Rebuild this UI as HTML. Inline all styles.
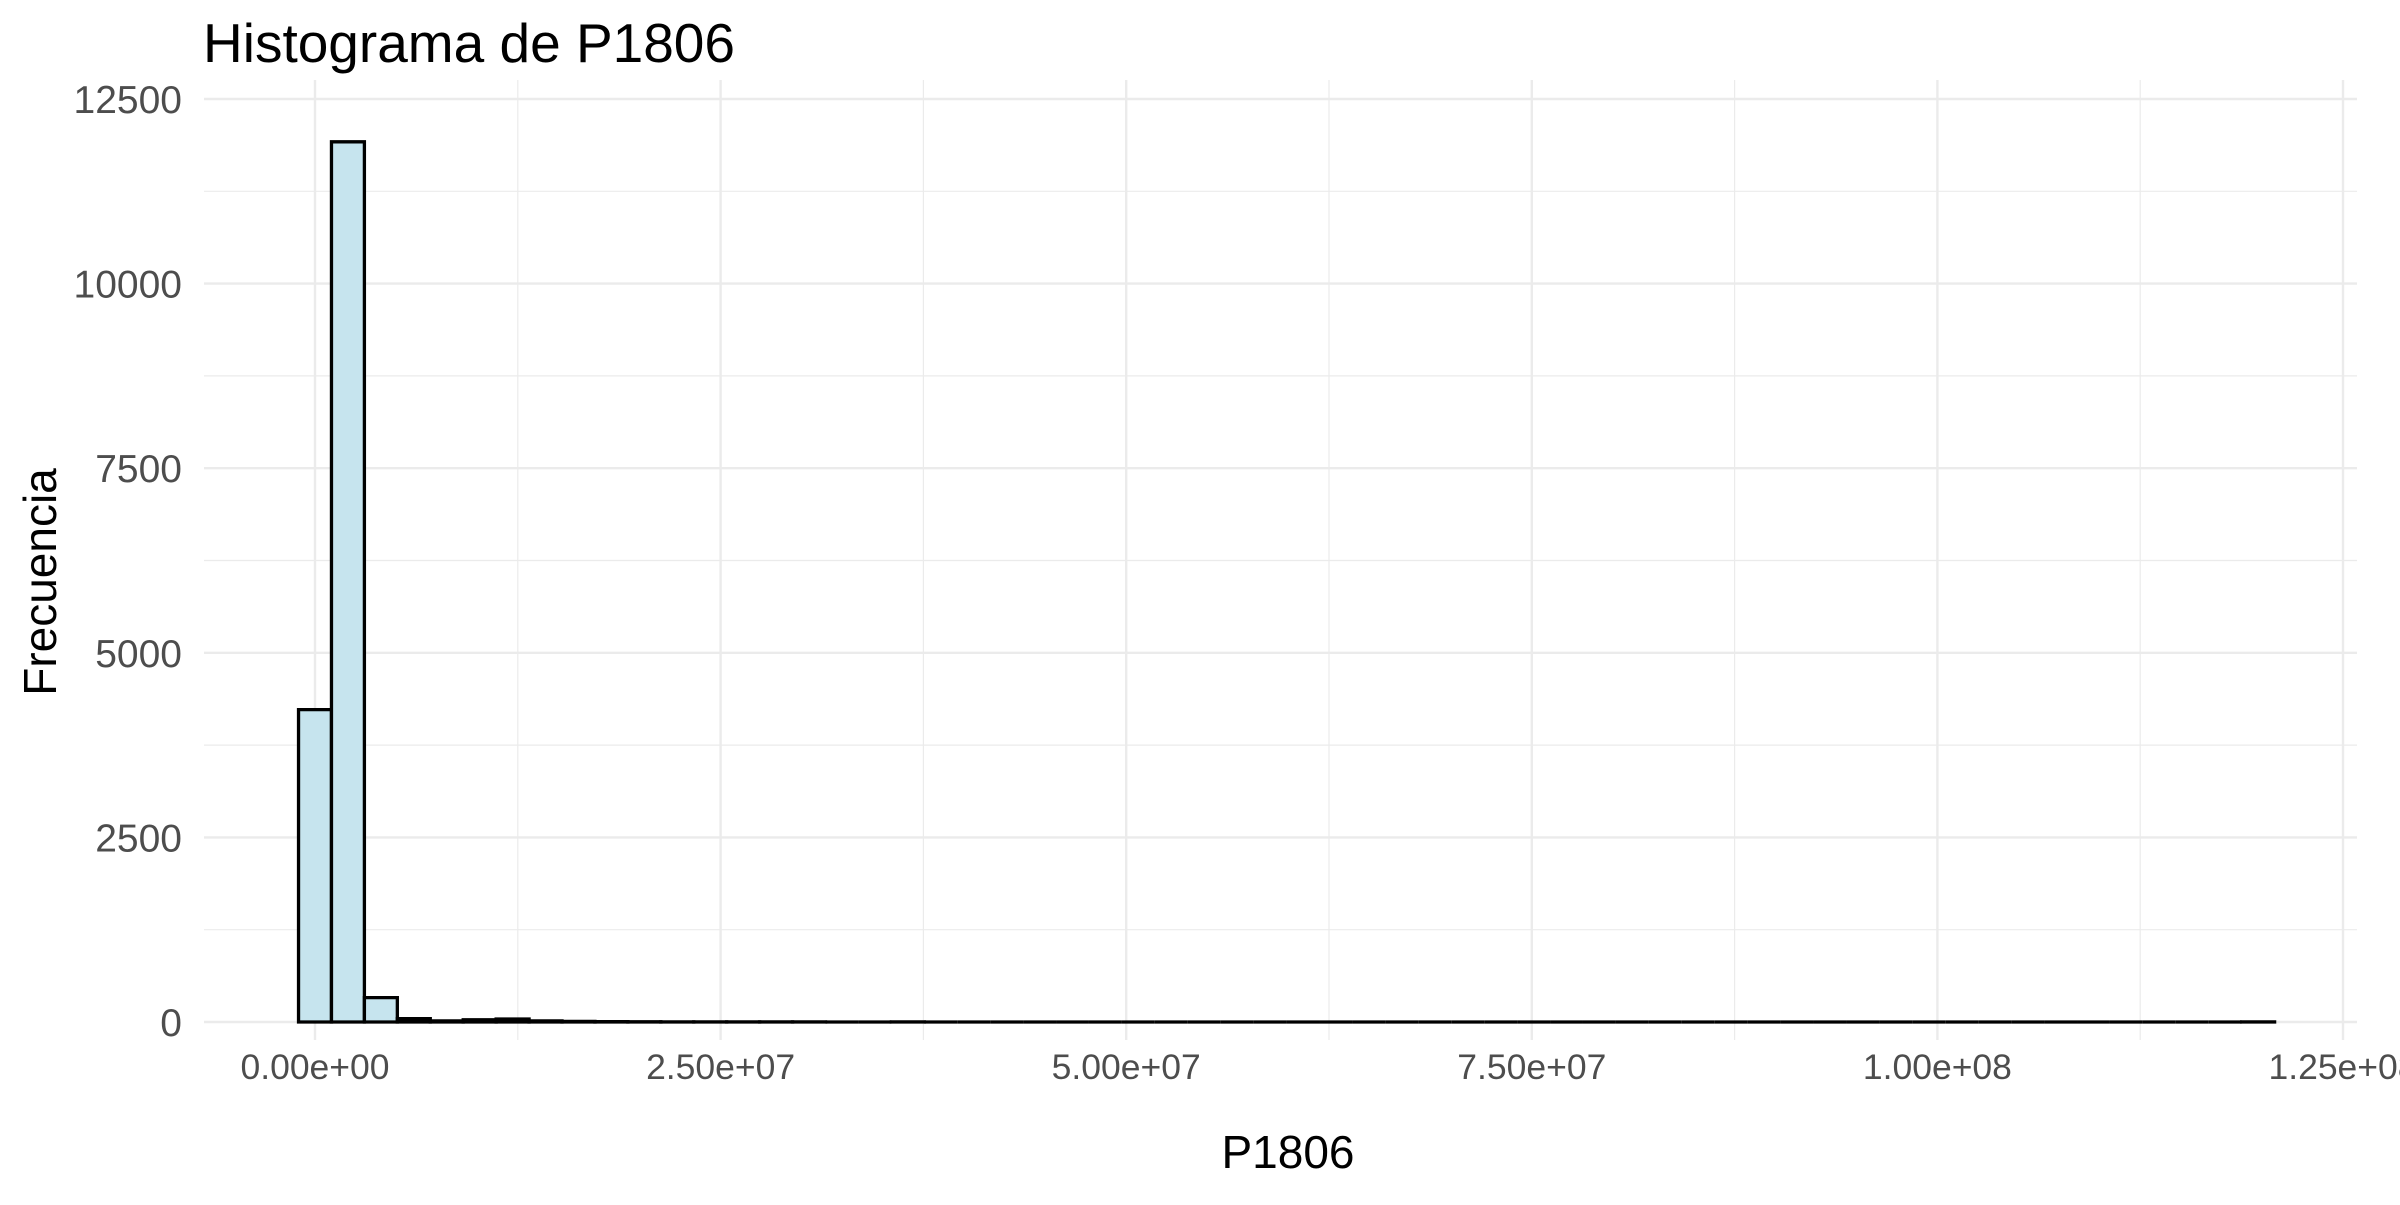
<!DOCTYPE html>
<html><head><meta charset="utf-8"><style>
body{margin:0;background:#fff}
svg text{font-family:"Liberation Sans",sans-serif}
</style></head><body>
<svg id="chart" width="2400" height="1200" xmlns="http://www.w3.org/2000/svg">
<g id="grid"></g><g id="bars"></g><g id="labels"></g>
<text x="203" y="62" font-size="55" fill="#000">Histograma de P1806</text>
<text x="1288" y="1168" font-size="46" text-anchor="middle" fill="#000">P1806</text>
<text transform="translate(56,582) rotate(-90)" font-size="46" text-anchor="middle" fill="#000">Frecuencia</text>
</svg>
<script>
const binWidth = 2030000;
const counts = [4230,11920,330,45,15,30,40,15,8,5,3,2,2,1,1,1,0,0,1,0,0,0,0,0,0,0,0,0,0,0,0,0,0,0,0,0,0,0,0,0,0,0,0,0,0,0,0,0,0,0,0,0,0,0,0,0,0,0,0,1];
const xTicks = [0,25000000,50000000,75000000,100000000,125000000];
const xTickLabels = ["0.00e+00","2.50e+07","5.00e+07","7.50e+07","1.00e+08","1.25e+08"];
const yTicks = [0,2500,5000,7500,10000,12500];
const yTickLabels = ["0","2500","5000","7500","10000","12500"];
const L=204,R=2357,T=80,B=1040;
const xs=v=>315+v*(405.6/25000000);
const ys=v=>1022-v*(923/12500);
const NS='http://www.w3.org/2000/svg';
function mk(tag,attrs,parent){const e=document.createElementNS(NS,tag);for(const k in attrs)e.setAttribute(k,attrs[k]);parent.appendChild(e);return e;}
const grid=document.getElementById('grid'),bars=document.getElementById('bars'),labels=document.getElementById('labels');
for(let i=0;i<yTicks.length;i++){
  if(i<yTicks.length-1){const m=(yTicks[i]+yTicks[i+1])/2;
    const g=mk('line',{x1:L,x2:R,y1:ys(m),y2:ys(m),stroke:'#ebebeb','stroke-width':1.2},grid);
    
    }
  const g=mk('line',{x1:L,x2:R,y1:ys(yTicks[i]),y2:ys(yTicks[i]),stroke:'#ebebeb','stroke-width':2.4},grid);
  
  
  const t=mk('text',{x:182,y:ys(yTicks[i])+14,'font-size':39,'text-anchor':'end',fill:'#4d4d4d'},labels);
  t.textContent=yTickLabels[i];
  
  
}
for(let i=0;i<xTicks.length;i++){
  if(i<xTicks.length-1){const m=(xTicks[i]+xTicks[i+1])/2;
    const g=mk('line',{x1:xs(m),x2:xs(m),y1:T,y2:B,stroke:'#ebebeb','stroke-width':1.2},grid);
    
    }
  const g=mk('line',{x1:xs(xTicks[i]),x2:xs(xTicks[i]),y1:T,y2:B,stroke:'#ebebeb','stroke-width':2.4},grid);
  
  
  const t=mk('text',{x:xs(xTicks[i]),y:1079,'font-size':35.5,'text-anchor':'middle',fill:'#4d4d4d'},labels);
  t.textContent=xTickLabels[i];
  
  
}
counts.forEach((c,i)=>{
  const x0=xs((i-0.5)*binWidth),x1=xs((i+0.5)*binWidth),y0=ys(0),y1=ys(c);
  const d=c>0?`M${x0},${y0}V${y1}H${x1}V${y0}Z`:`M${x0},${y0}H${x1}`;
  const r=mk('path',{d:d,fill:'#c6e4ee',stroke:'#000','stroke-width':3.3},bars);
  
  
});
</script>
</body></html>
